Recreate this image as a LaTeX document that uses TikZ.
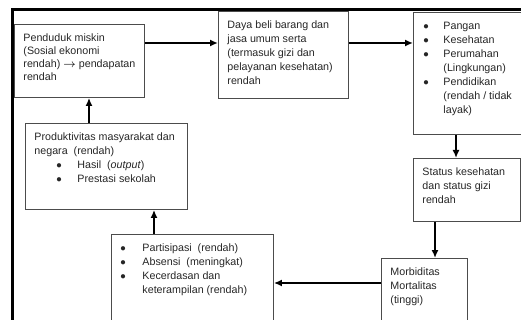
\documentclass[tikz,border=0pt]{standalone}
\usepackage{amsmath}
\usepackage{fontspec}
\setmainfont{Liberation Sans}
\usetikzlibrary{arrows.meta,calc}
\tikzset{>={Latex[length=8pt,width=7pt]}}
\tikzset{kotak/.style={draw=black!70, line width=0.9pt, anchor=north west,
    inner xsep=9pt, inner ysep=9.5pt, text=black!85,
    font=\fontsize{10.7}{14}\selectfont}}
\tikzset{panah/.style={->, line width=1.6pt}}
% isi kotak: lebar, tinggi, teks
\newcommand{\isi}[3]{\parbox[t][#2][t]{#1}{\raggedright #3}}
% butir: posisi titik, posisi teks, teks
\newcommand{\butir}[3]{\par{\leftskip=#2\relax\noindent\llap{\makebox[\dimexpr#2-#1\relax][l]{$\bullet$}}#3\par}}

\begin{document}
\begin{tikzpicture}[x=1pt, y=-1pt]
  \useasboundingbox (0,0) rectangle (521,320);
  \clip (0,0) rectangle (521,320);
  % bingkai luar
  \draw[line width=2.6pt] (12.5,340) -- (12.5,9.5) -- (540,9.5);

  \node[kotak] (penduduk) at (14,24) {\isi{112pt}{54pt}{\fontsize{10.7}{13}\selectfont
      Penduduk miskin\\(Sosial ekonomi\\rendah) $\boldsymbol{\rightarrow}$ pendapatan\\rendah}};
  \node[kotak] (daya) at (218,11) {\isi{112pt}{68pt}{Daya beli barang dan\\jasa umum serta\\(termasuk gizi dan\\pelayanan kesehatan)\\rendah}};
  \node[kotak] (pangan) at (413,12) {\isi{117pt}{103pt}{%
      \butir{1pt}{21pt}{Pangan}
      \butir{1pt}{21pt}{Kesehatan}
      \butir{1pt}{21pt}{Perumahan\\(Lingkungan)}
      \butir{1pt}{21pt}{Pendidikan\\(rendah / tidak\\layak)}}};
  \node[kotak] (status) at (413,158) {\isi{89pt}{44pt}{Status kesehatan\\dan status gizi\\rendah}};
  \node[kotak] (morbid) at (381,258) {\isi{68pt}{61pt}{Morbiditas\\Mortalitas\\(tinggi)}};
  \node[kotak] (partisipasi) at (111,234) {\isi{144pt}{71pt}{%
      \butir{0pt}{22pt}{Partisipasi\ \ (rendah)}
      \butir{0pt}{22pt}{Absensi\ \ (meningkat)}
      \butir{0pt}{22pt}{Kecerdasan dan\\keterampilan (rendah)}}};
  \node[kotak] (prod) at (25,123) {\isi{144pt}{67pt}{Produktivitas masyarakat dan\\negara\ \ (rendah)
      \butir{22pt}{43pt}{Hasil\ \ (\textit{output})}
      \butir{22pt}{43pt}{Prestasi sekolah}}};

  % panah
  \coordinate (a1) at ([yshift=-19pt]penduduk.north east);
  \draw[panah] (a1) -- (a1 -| daya.west);
  \coordinate (a2) at ([yshift=-32pt]daya.north east);
  \draw[panah] (a2) -- (a2 -| pangan.west);
  \coordinate (a3) at ([xshift=43pt]pangan.south west);
  \draw[panah] (a3) -- (a3 |- status.north);
  \coordinate (a4) at ([xshift=22pt]status.south west);
  \draw[panah] (a4) -- (a4 |- morbid.north);
  \coordinate (a5) at ([yshift=-25pt]morbid.north west);
  \draw[panah] (a5) -- (a5 -| partisipasi.east);
  \coordinate (a6) at ([xshift=43pt]partisipasi.north west);
  \draw[panah] (a6) -- (a6 |- prod.south);
  \coordinate (a7) at ([xshift=64pt]prod.north west);
  \draw[panah] (a7) -- (a7 |- penduduk.south);
\end{tikzpicture}
\end{document}
